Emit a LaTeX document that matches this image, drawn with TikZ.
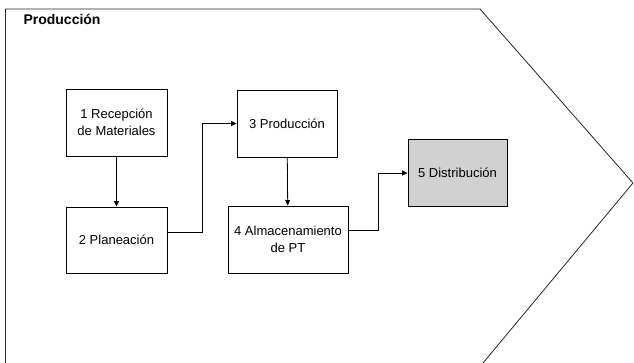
\documentclass[tikz,border=0pt]{standalone}
\usepackage{fontspec}
\setmainfont{Liberation Sans}
\usetikzlibrary{arrows.meta}
\begin{document}
\begin{tikzpicture}[x=1pt,y=-1pt,
  stepbox/.style={draw=black,line width=0.9pt,fill=white,align=center,
    font=\fontsize{13}{17}\selectfont,inner sep=0pt},
  arr/.style={draw=black,line width=0.8pt,-{Triangle[length=5.5pt,width=5pt]}},
  frame/.style={draw=black!85,line width=0.8pt}]
\useasboundingbox (0,0) rectangle (634,363);
\draw[frame] (5.5,363) -- (5.5,9) -- (480,9) -- (633,183) -- (483,363);
\node[anchor=base west,font=\fontsize{14}{16}\selectfont\bfseries] (title) at (20,25) {Producción};
\node[stepbox,minimum width=101pt,minimum height=67pt] (b1) at (116.5,122.5) {1 Recepción\\de Materiales};
\node[stepbox,minimum width=101pt,minimum height=66pt] (b2) at (116.5,240) {2 Planeación};
\node[stepbox,minimum width=100pt,minimum height=67pt] (b3) at (287,123.5) {3 Producción};
\node[stepbox,minimum width=120pt,minimum height=67pt] (b4) at (288,239.5) {4 Almacenamiento\\de PT};
\node[stepbox,fill=black!18,minimum width=99pt,minimum height=67pt] (b5) at (457.5,173) {5 Distribución};
\draw[arr] (b1) -- (b2);
\draw[arr] ([yshift=8pt]b2.east) -- ++(35,0) |- (b3.west);
\draw[arr] (b3) -- (b4);
\draw[arr] ([yshift=9.5pt]b4.east) -- ++(30,0) |- (b5.west);
\end{tikzpicture}
\end{document}
